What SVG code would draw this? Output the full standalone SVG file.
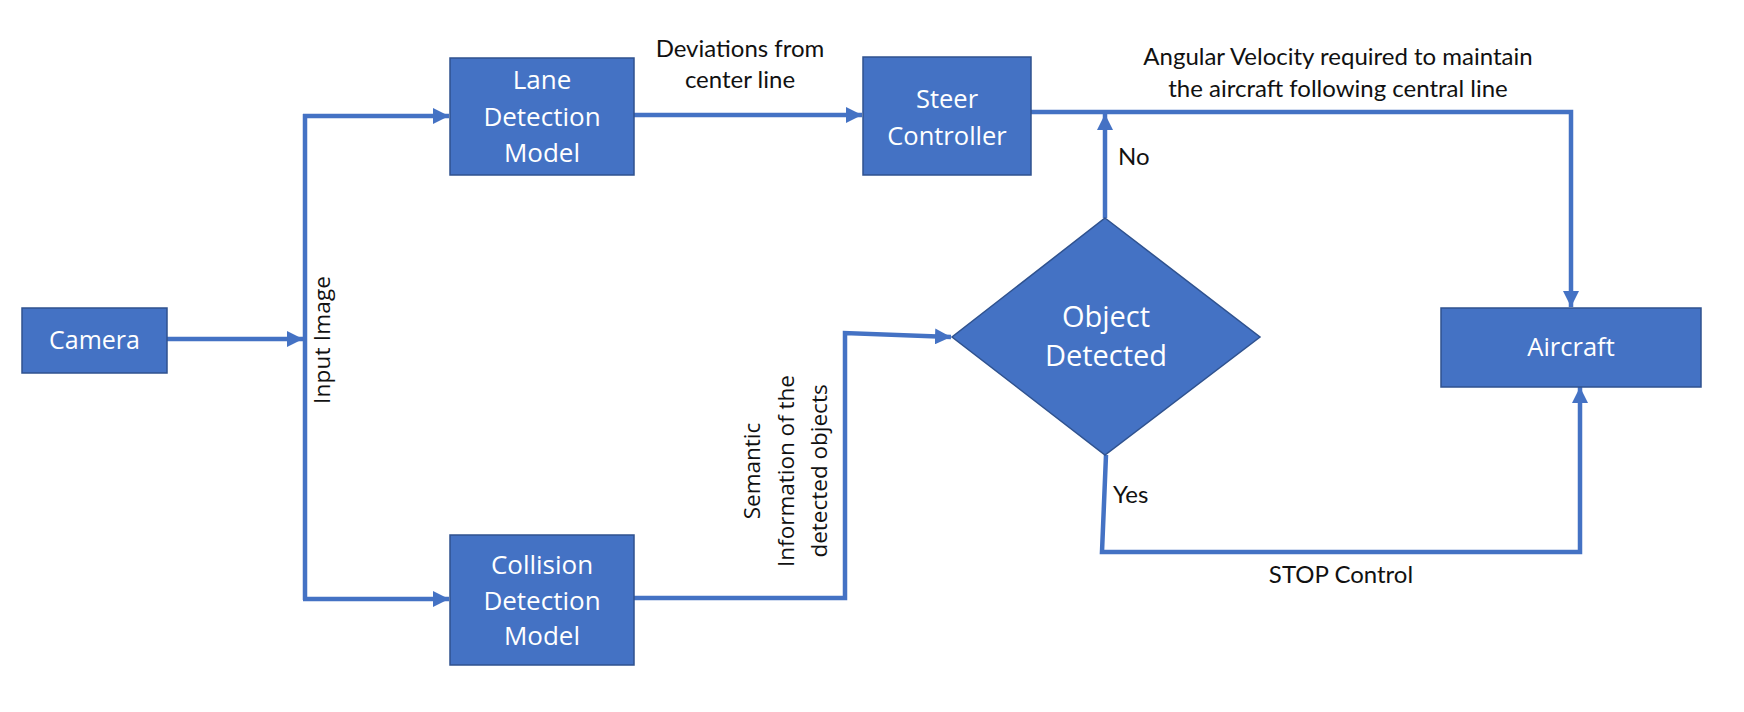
<svg xmlns="http://www.w3.org/2000/svg" width="1744" height="712" viewBox="0 0 1744 712">
  <style>
    .box { fill: #4472C4; stroke: #2F528F; stroke-width: 1.5; }
    .wt { fill: #ffffff; font-family: "Open Sans", "Liberation Sans", sans-serif; text-anchor: middle; }
    .lbl { fill: #111111; font-family: Lato, "Liberation Sans", sans-serif; font-size: 24px; }
    .vt { fill: #111111; font-family: "Open Sans", "Liberation Sans", sans-serif; font-size: 22.5px; text-anchor: middle; }
    .conn { fill: none; stroke: #4472C4; stroke-width: 4.5; stroke-linejoin: miter; }
  </style>
  <defs>
    <marker id="arr" viewBox="0 0 16 16" refX="16" refY="8" markerWidth="16" markerHeight="16" markerUnits="userSpaceOnUse" orient="auto">
      <path d="M0,0 L16,8 L0,16 Z" fill="#4472C4"/>
    </marker>
  </defs>
  <rect width="1744" height="712" fill="#ffffff"/>

  <g id="connectors">
    <path class="conn" d="M167,339 H303" marker-end="url(#arr)"/>
    <path class="conn" d="M305,114 V600"/>
    <path class="conn" d="M303,116 H449" marker-end="url(#arr)"/>
    <path class="conn" d="M303,599 H449" marker-end="url(#arr)"/>
    <path class="conn" d="M634,115 H862" marker-end="url(#arr)"/>
    <path class="conn" d="M1031,112 H1571 V307" marker-end="url(#arr)"/>
    <path class="conn" d="M1105,218 V114" marker-end="url(#arr)"/>
    <path class="conn" d="M634,598 H845 V333 L951,337" marker-end="url(#arr)"/>
    <path class="conn" d="M1106,455 L1102,552 H1580 V387" marker-end="url(#arr)"/>
  </g>

  <g id="camera">
    <rect class="box" x="22" y="308" width="145" height="65"/>
    <text class="wt" x="94.5" y="349" font-size="25">Camera</text>
  </g>

  <g id="lane-detection">
    <rect class="box" x="450" y="58" width="184" height="117"/>
    <text class="wt" x="542" font-size="26"><tspan x="542" y="89">Lane</tspan><tspan x="542" y="126">Detection</tspan><tspan x="542" y="162">Model</tspan></text>
  </g>

  <g id="collision-detection">
    <rect class="box" x="450" y="535" width="184" height="130"/>
    <text class="wt" x="542" font-size="26"><tspan x="542" y="574">Collision</tspan><tspan x="542" y="610">Detection</tspan><tspan x="542" y="645">Model</tspan></text>
  </g>

  <g id="steer-controller">
    <rect class="box" x="863" y="57" width="168" height="118"/>
    <text class="wt" x="947" font-size="25.5"><tspan x="947" y="108">Steer</tspan><tspan x="947" y="145">Controller</tspan></text>
  </g>

  <g id="object-detected">
    <polygon class="box" points="1105,218 1260,337 1105,455 952,337"/>
    <text class="wt" x="1106" font-size="29"><tspan x="1106" y="327">Object</tspan><tspan x="1106" y="366">Detected</tspan></text>
  </g>

  <g id="aircraft">
    <rect class="box" x="1441" y="308" width="260" height="79"/>
    <text class="wt" x="1571" y="356" font-size="25.5">Aircraft</text>
  </g>

  <g id="labels">
    <text class="lbl" text-anchor="middle"><tspan x="740" y="57">Deviations from</tspan><tspan x="740" y="88">center line</tspan></text>
    <text class="lbl" text-anchor="middle"><tspan x="1338" y="65">Angular Velocity required to maintain</tspan><tspan x="1338" y="97">the aircraft following central line</tspan></text>
    <text class="lbl" x="1118" y="165">No</text>
    <text class="lbl" x="1113" y="503">Yes</text>
    <text class="lbl" x="1341" y="583" text-anchor="middle">STOP Control</text>
    <text class="vt" transform="translate(330,340) rotate(-90)" textLength="128" lengthAdjust="spacing">Input Image</text>
    <text class="vt" transform="translate(760,471) rotate(-90)">Semantic</text>
    <text class="vt" transform="translate(794,471) rotate(-90)">Information of the</text>
    <text class="vt" transform="translate(827,471) rotate(-90)">detected objects</text>
  </g>
</svg>
